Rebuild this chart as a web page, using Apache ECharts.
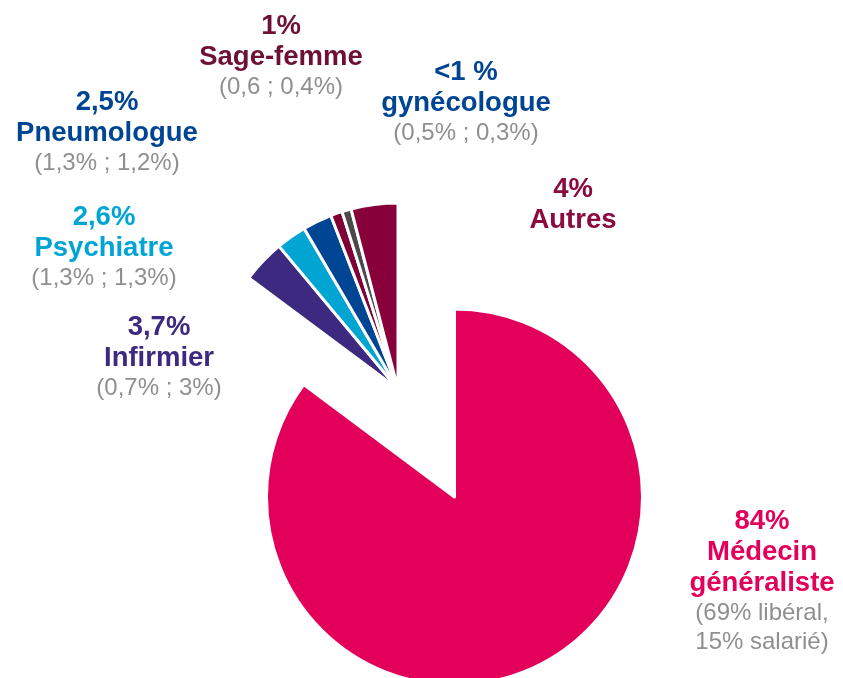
<!DOCTYPE html>
<html>
<head>
<meta charset="utf-8">
<script src="https://cdn.jsdelivr.net/npm/echarts@6/dist/echarts.min.js"></script>
<style>
  html, body { margin: 0; padding: 0; background: #ffffff; }
  #chart { width: 843px; height: 678px; }
</style>
</head>
<body>
<div id="chart"></div>
<script>
// ---- Data ----
const categories = ['Médecin généraliste', 'Infirmier', 'Psychiatre', 'Pneumologue', 'Sage-femme', 'gynécologue', 'Autres'];
const shares = [84, 3.7, 2.6, 2.5, 1, 0.8, 4];
const pctLabels = ['84%', '3,7%', '2,6%', '2,5%', '1%', '<1 %', '4%'];
const nameLines = [['Médecin', 'généraliste'], ['Infirmier'], ['Psychiatre'], ['Pneumologue'], ['Sage-femme'], ['gynécologue'], ['Autres']];
const detailLines = [['(69% libéral,', '15% salarié)'], ['(0,7% ; 3%)'], ['(1,3% ; 1,3%)'], ['(1,3% ; 1,2%)'], ['(0,6 ; 0,4%)'], ['(0,5% ; 0,3%)'], []];

// ---- Styles ----
const sliceColors = ['#E3005B', '#3D2A80', '#00A5D2', '#004494', '#7E0035', '#4A4A4A', '#87003A'];
const labelColors = ['#E3005B', '#3D2A80', '#00A5D6', '#004494', '#6E1034', '#004494', '#8B0A3F'];
// label anchor (centre x, top y) per category
const labelPos = [[762, 506], [159, 312], [104, 202], [107, 87], [281, 11], [466, 57], [573, 174]];

const FONT = '"Liberation Sans", Arial, sans-serif';

function labelText(i) {
  const parts = ['{p|' + pctLabels[i] + '}'];
  nameLines[i].forEach(l => parts.push('{n|' + l + '}'));
  detailLines[i].forEach(l => parts.push('{d|' + l + '}'));
  return parts.join('\n');
}

const rich = {
  p: { fontSize: 27.5, fontWeight: 'bold', lineHeight: 31, fontFamily: FONT, align: 'center' },
  n: { fontSize: 27.5, fontWeight: 'bold', lineHeight: 31, fontFamily: FONT, align: 'center' },
  d: { fontSize: 24, color: '#8F8F8F', lineHeight: 29, fontFamily: FONT, align: 'center' }
};

function makeItem(i) {
  return {
    name: categories[i],
    value: shares[i],
    itemStyle: { color: sliceColors[i] },
    label: { show: true, color: labelColors[i], formatter: labelText(i), rich: rich },
    labelLine: { show: false }
  };
}

const smallSum = shares.slice(1).reduce((a, b) => a + b, 0);
const hiddenStyle = { color: 'rgba(0,0,0,0)', borderWidth: 0 };

// Series 1: main slice + transparent remainder
const mainData = [makeItem(0), {
  name: '_rest', value: smallSum, itemStyle: hiddenStyle,
  label: { show: false }, labelLine: { show: false }, emphasis: { disabled: true }
}];

// Series 2: transparent main placeholder + exploded small slices
const smallData = [{
  name: '_main', value: shares[0], itemStyle: hiddenStyle,
  label: { show: false }, labelLine: { show: false }, emphasis: { disabled: true }
}];
for (let i = 1; i < categories.length; i++) smallData.push(makeItem(i));

function placeLabel(params) {
  const p = labelPos[params.dataIndex];
  if (!p) return {};
  return { x: p[0], y: p[1], align: 'center', verticalAlign: 'top' };
}

const chart = echarts.init(document.getElementById('chart'), null, { renderer: 'canvas' });
chart.setOption({
  animation: false,
  backgroundColor: '#ffffff',
  series: [
    {
      type: 'pie',
      center: [454.5, 497],
      radius: [0, 188],
      startAngle: 90,
      clockwise: true,
      avoidLabelOverlap: false,
      itemStyle: { borderColor: '#ffffff', borderWidth: 3 },
      label: { position: 'outside' },
      labelLayout: placeLabel,
      data: mainData,
      silent: true
    },
    {
      type: 'pie',
      center: [398, 389],
      radius: [0, 186],
      startAngle: 90,
      clockwise: true,
      avoidLabelOverlap: false,
      itemStyle: { borderColor: '#ffffff', borderWidth: 3 },
      label: { position: 'outside' },
      labelLayout: placeLabel,
      data: smallData,
      silent: true
    }
  ]
});
</script>
</body>
</html>
